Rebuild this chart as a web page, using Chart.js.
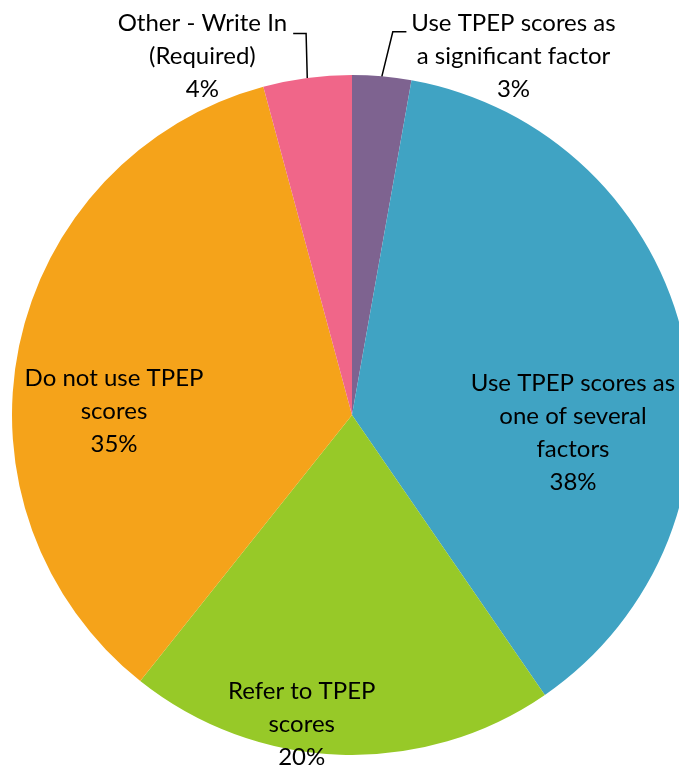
<!DOCTYPE html>
<html>
<head>
<meta charset="utf-8">
<script src="https://cdn.jsdelivr.net/npm/chart.js@4/dist/chart.umd.min.js"></script>
<style>
html,body{margin:0;padding:0;background:#fff;overflow:hidden;width:679px;height:774px;}
#wrap{position:absolute;left:0;top:0;width:704px;height:830px;}
</style>
</head>
<body>
<div id="wrap"><canvas id="c"></canvas></div>
<script>
const categories = [
  "Use TPEP scores as a significant factor",
  "Use TPEP scores as one of several factors",
  "Refer to TPEP scores",
  "Do not use TPEP scores",
  "Other - Write In (Required)"
];
const values = [2.8, 37.6, 20.3, 35.1, 4.2];
const labelLines = [
  ["Use TPEP scores as", "a significant factor"],
  ["Use TPEP scores as", "one of several", "factors"],
  ["Refer to TPEP", "scores"],
  ["Do not use TPEP", "scores"],
  ["Other - Write In", "(Required)"]
];
const colors = ["#7E6390", "#40A3C3", "#97C928", "#F5A31A", "#F06689"];

// label anchor (center of text block) relative to pie center, in radius units
const labelPos = [
  {dx: 0.475, dy: -1.056, leader: [{dx: 0.12, dy: -1.127}, {dx: 0.16, dy: -1.127}]},
  {dx: 0.65, dy: 0.051},
  {dx: -0.148, dy: 0.91},
  {dx: -0.70, dy: -0.01},
  {dx: -0.44, dy: -1.056, leader: [{dx: -0.135, dy: -1.122}, {dx: -0.173, dy: -1.122}]}
];

const labelPlugin = {
  id: 'pieLabels',
  afterDatasetsDraw(chart) {
    const ctx = chart.ctx;
    const meta = chart.getDatasetMeta(0);
    const total = values.reduce((a, b) => a + b, 0);
    ctx.save();
    ctx.font = '24px Lato, "Liberation Sans", sans-serif';
    ctx.fillStyle = '#000';
    ctx.textAlign = 'center';
    ctx.textBaseline = 'middle';
    meta.data.forEach((arc, i) => {
      const cx = arc.x, cy = arc.y, r = arc.outerRadius;
      const p = labelPos[i];
      const lines = labelLines[i].concat([Math.round(values[i] / total * 100) + '%']);
      const lh = 33;
      const x0 = cx + p.dx * r;
      const y0 = cy + p.dy * r;
      const startY = y0 - (lines.length - 1) * lh / 2;
      lines.forEach((t, k) => ctx.fillText(t, x0, startY + k * lh));
      if (p.leader) {
        const mid = (arc.startAngle + arc.endAngle) / 2;
        ctx.beginPath();
        ctx.strokeStyle = '#000';
        ctx.lineWidth = 1.5;
        ctx.moveTo(cx + Math.cos(mid) * r, cy + Math.sin(mid) * r);
        p.leader.forEach(q => ctx.lineTo(cx + q.dx * r, cy + q.dy * r));
        ctx.stroke();
      }
    });
    ctx.restore();
  }
};

new Chart(document.getElementById('c'), {
  type: 'pie',
  data: {
    labels: categories,
    datasets: [{
      data: values,
      backgroundColor: colors,
      borderWidth: 0
    }]
  },
  options: {
    responsive: true,
    maintainAspectRatio: false,
    animation: false,
    layout: {padding: {left: 12, right: 12, top: 75, bottom: 75}},
    plugins: {legend: {display: false}, tooltip: {enabled: false}}
  },
  plugins: [labelPlugin]
});
</script>
</body>
</html>
